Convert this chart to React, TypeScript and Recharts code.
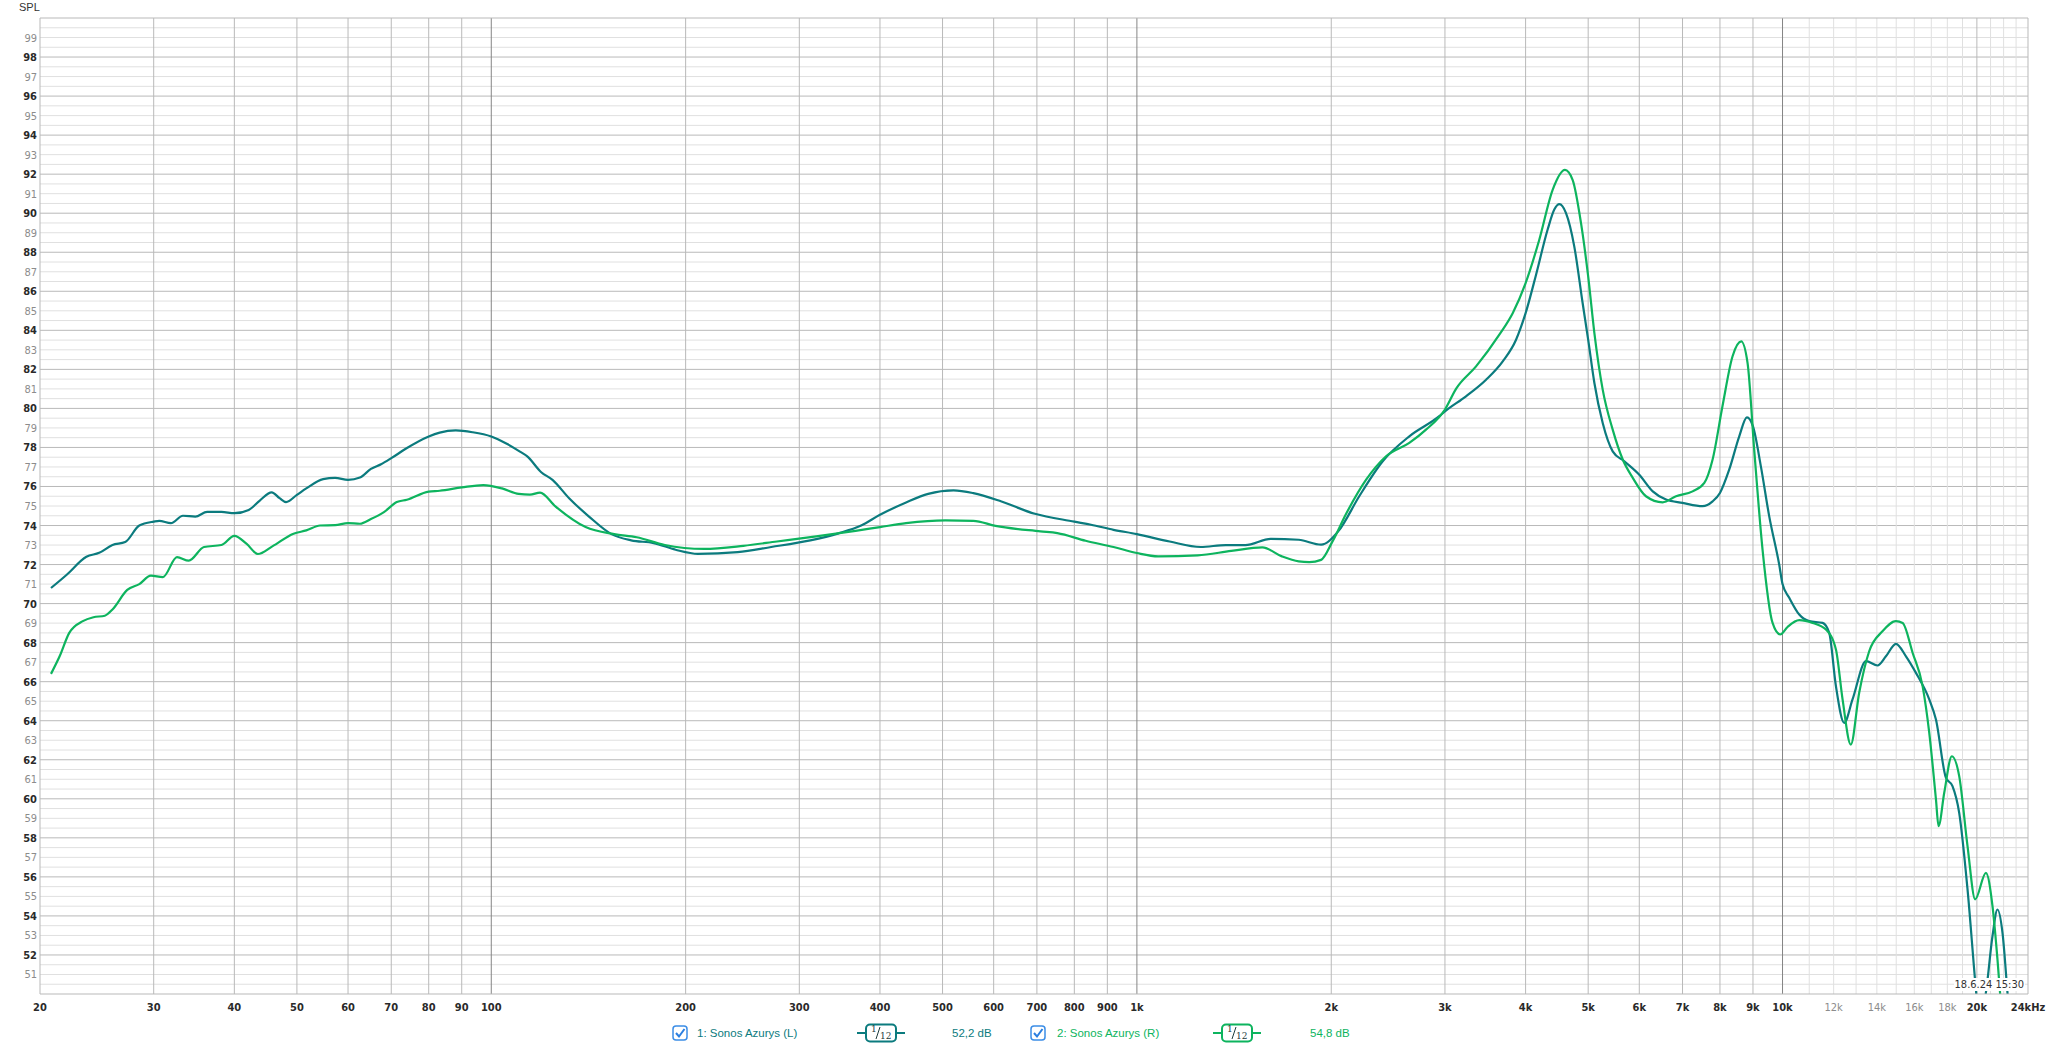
import React from "react"
import { LineChart, Line, XAxis, YAxis, ReferenceLine } from "recharts"

const freqL = [
  20.8, 22, 23.6, 24.7, 25.9, 27.1, 28.5, 30, 30.6, 31.9, 33.3, 34.8, 36.3, 38.2, 40, 42.1, 43.8, 45.7, 47, 48.1,
  50, 51.7, 54.9, 57.3, 60, 62.6, 65.1, 67.5, 70, 73.7, 80, 83.2, 88.1, 93.5, 100, 105.5, 110.6, 113.7, 119.5,
  124.4, 132, 141.7, 153.5, 164.7, 178.4, 193, 209, 240.8, 271.4, 312, 345, 374, 400, 439, 475, 520, 558, 617,
  695, 800, 849, 920, 1000, 1124, 1255, 1373, 1472, 1612, 1781, 1929, 2050, 2210, 2403, 2642, 2940, 3000, 3234,
  3474, 3687, 3866, 4000, 4152, 4326, 4433, 4512, 4620, 4758, 4902, 5000, 5112, 5266, 5457, 5688, 6000, 6295,
  6600, 7000, 7520, 7793, 8000, 8268, 8570, 8808, 9000, 9257, 9537, 9882, 10000, 10242, 10614, 11000, 11536,
  11812, 12098, 12460, 12836, 13466, 14034, 14460, 14986, 15530, 16094, 16876, 17284, 17908, 18334, 18778,
  19344, 19930, 20166, 20654, 21146, 21524, 21912, 22306, 22700,
]
const splL = [
  70.8, 71.48, 72.4, 72.6, 73.0, 73.15, 74.0, 74.2, 74.24, 74.12, 74.5, 74.46, 74.7, 74.7, 74.63, 74.8, 75.28,
  75.7, 75.4, 75.2, 75.57, 75.9, 76.38, 76.44, 76.34, 76.46, 76.9, 77.14, 77.45, 77.93, 78.56, 78.76, 78.87,
  78.78, 78.56, 78.2, 77.8, 77.54, 76.73, 76.34, 75.4, 74.46, 73.56, 73.24, 73.1, 72.76, 72.55, 72.64, 72.9,
  73.24, 73.6, 74.0, 74.55, 75.18, 75.62, 75.8, 75.66, 75.23, 74.6, 74.2, 74.04, 73.78, 73.56, 73.18, 72.9,
  73.0, 73.0, 73.32, 73.27, 73.02, 73.7, 75.5, 77.29, 78.57, 79.6, 79.85, 80.62, 81.47, 82.41, 83.52, 84.88,
  86.85, 89.15, 90.2, 90.46, 90.0, 88.3, 85.4, 83.52, 81.3, 79.25, 77.8, 77.29, 76.6, 75.75, 75.33, 75.16,
  74.99, 75.24, 75.67, 76.86, 78.57, 79.54, 79.08, 77.03, 74.47, 72.0, 71.0, 70.3, 69.44, 69.1, 69.01, 68.5,
  65.77, 63.89, 65.09, 67.05, 66.83, 67.3, 67.94, 67.3, 66.45, 65.09, 64.06, 61.08, 60.65, 59.28, 55.36, 50.24,
  48.5, 50.07, 52.97, 54.33, 53.14, 50.07, 47,
]

const freqR = [
  20.8, 21.45, 22.2, 23.3, 24.2, 25.2, 25.9, 27.3, 28.5, 29.7, 31, 32.6, 34, 35.9, 38.2, 40, 41.8, 43.5, 45.8,
  49.4, 51.7, 54.3, 57.3, 60, 62.6, 65.1, 68.2, 71.4, 74, 80, 83.2, 90, 97.2, 103.9, 110.3, 114.8, 119, 125.7,
  140, 155, 168, 185.7, 213.6, 245.7, 277, 318.6, 366.6, 400, 439, 505, 558, 604, 709, 753, 833, 920, 1000,
  1079, 1242, 1400, 1564, 1677, 1781, 1849, 1929, 2010, 2109, 2265, 2432, 2642, 2804, 3000, 3121, 3352, 3642,
  3820, 4000, 4200, 4405, 4603, 4730, 4874, 5000, 5112, 5266, 5457, 5656, 5862, 6144, 6522, 6840, 7257, 7566,
  7793, 8072, 8368, 8630, 8828, 9039, 9312, 9651, 9917, 10180, 10614, 11132, 11674, 12098, 12388, 12758, 13144,
  13622, 14282, 14986, 15346, 15906, 16480, 16876, 17284, 17444, 17802, 18292, 18778, 19344, 19880, 20654,
  21146, 21524, 21788, 22100,
]
const splR = [
  66.4, 67.3, 68.5, 69.1, 69.3, 69.38, 69.7, 70.7, 71.0, 71.43, 71.36, 72.38, 72.2, 72.9, 73.0, 73.47, 73.06,
  72.54, 72.93, 73.58, 73.75, 74.0, 74.02, 74.12, 74.09, 74.33, 74.69, 75.2, 75.32, 75.74, 75.78, 75.95, 76.07,
  75.9, 75.62, 75.58, 75.69, 74.98, 73.92, 73.56, 73.4, 73.0, 72.8, 72.96, 73.18, 73.44, 73.73, 73.92, 74.12,
  74.26, 74.24, 73.98, 73.7, 73.61, 73.22, 72.9, 72.59, 72.42, 72.47, 72.7, 72.88, 72.42, 72.16, 72.12, 72.24,
  73.2, 74.6, 76.35, 77.55, 78.23, 78.91, 79.94, 81.0, 82.15, 83.78, 84.88, 86.42, 88.64, 91.2, 92.22, 91.71,
  89.49, 86.76, 83.86, 80.96, 78.91, 77.38, 76.44, 75.5, 75.19, 75.5, 75.75, 76.18, 77.38, 80.11, 82.67, 83.43,
  82.32, 77.89, 72.77, 69.01, 68.42, 68.8, 69.15, 69.01, 68.67, 67.65, 65.09, 62.78, 65.43, 67.56, 68.58, 69.1,
  69.01, 67.47, 65.77, 63.38, 59.97, 58.6, 60.31, 62.18, 61.16, 57.58, 54.85, 56.21, 54.5, 51.77, 49.5, 47,
]

const xTicks = [
  20, 30, 40, 50, 60, 70, 80, 90, 100, 200, 300, 400, 500, 600, 700, 800, 900, 1000, 2000, 3000, 4000, 5000,
  6000, 7000, 8000, 9000, 10000, 12000, 14000, 16000, 18000, 20000, 24000,
]
const xTickLabels = [
  "20", "30", "40", "50", "60", "70", "80", "90", "100", "200", "300", "400", "500", "600", "700", "800", "900",
  "1k", "2k", "3k", "4k", "5k", "6k", "7k", "8k", "9k", "10k", "12k", "14k", "16k", "18k", "20k", "24kHz",
]
const yTicks = Array.from({ length: 49 }, (_, i) => 51 + i)

// grid line positions
const hGrid = Array.from({ length: 99 }, (_, i) => 50.5 + i * 0.5)
const vGridMid = [30, 40, 50, 60, 70, 80, 90, 200, 300, 400, 500, 600, 700, 800, 900, 2000, 3000, 4000, 5000, 6000, 7000, 8000, 9000, 20000]
const vGridDecade = [100, 1000, 10000]
const vGridLight = [11000, 12000, 13000, 14000, 15000, 16000, 17000, 18000, 19000, 21000, 22000, 23000]

const TEAL = "#0b7b7e"
const GREEN = "#0db45e"
const FONT = "'Liberation Sans Narrow', 'DejaVu Sans Condensed', 'Liberation Sans', sans-serif"
const UIFONT = "'Liberation Sans', Arial, sans-serif"

const dataL = freqL.map((f, i) => ({ f, v: splL[i] }))
const dataR = freqR.map((f, i) => ({ f, v: splR[i] }))

function YTick(props: any) {
  const { y, payload } = props
  const even = payload.value % 2 === 0
  return (
    <text x={37} y={y} dy={4} textAnchor="end" fontSize={11} fontFamily={FONT}
      fontWeight={even ? "bold" : "normal"} fill={even ? "#2a2a2a" : "#8c8c8c"}>
      {payload.value}
    </text>
  )
}

function XTick(props: any) {
  const { x, payload } = props
  const i = xTicks.indexOf(payload.value)
  const gray = payload.value >= 12000 && payload.value <= 18000
  return (
    <text x={x} y={1011} textAnchor="middle" fontSize={11} fontFamily={FONT}
      fontWeight={gray ? "normal" : "bold"} fill={gray ? "#8c8c8c" : "#2a2a2a"}>
      {xTickLabels[i]}
    </text>
  )
}

function LegendIcon({ x, color }: { x: number; color: string }) {
  return (
    <g>
      <line x1={x} x2={x + 48} y1={15} y2={15} stroke={color} strokeWidth={2} />
      <rect x={x + 9} y={6.5} width={30} height={17} rx={4} fill="#fff" stroke={color} strokeWidth={2} />
      <text x={x + 14} y={14} fontSize={9} fontFamily="'DejaVu Serif', serif" fill="#1d3c3c">1</text>
      <line x1={x + 19} x2={x + 23} y1={21} y2={9} stroke="#1d3c3c" strokeWidth={1} />
      <text x={x + 23} y={21} fontSize={9} fontFamily="'DejaVu Serif', serif" fill="#1d3c3c">12</text>
    </g>
  )
}

function CheckBox({ cx }: { cx: number }) {
  return (
    <g>
      <rect x={cx - 7} y={8} width={14} height={14} rx={3} fill="#fff" stroke="#3b8de6" strokeWidth={1.5} />
      <path d={`M${cx - 4},${15} L${cx - 1},${18.5} L${cx + 4.5},${11}`} fill="none" stroke="#2b7fe0" strokeWidth={2} />
    </g>
  )
}

export default function App() {
  return (
    <div style={{ position: "absolute", left: 0, top: 0, width: 2048, height: 1046, background: "#fff" }}>
      <div style={{ position: "absolute", left: 19, top: 1, fontSize: 11, fontFamily: UIFONT, color: "#333" }}>SPL</div>
      <LineChart width={2048} height={1046} margin={{ top: 18, right: 20, left: 0, bottom: 22 }}>
        {hGrid.map((v) => (
          <ReferenceLine key={"h" + v} y={v} stroke={v % 2 === 0 ? "#b9b9b9" : "#e0e0e0"} strokeWidth={1} />
        ))}
        {vGridLight.map((v) => (
          <ReferenceLine key={"vl" + v} x={v} stroke="#e0e0e0" strokeWidth={1} />
        ))}
        {vGridMid.map((v) => (
          <ReferenceLine key={"vm" + v} x={v} stroke="#b9b9b9" strokeWidth={1} />
        ))}
        {vGridDecade.map((v) => (
          <ReferenceLine key={"vd" + v} x={v} stroke="#858585" strokeWidth={1} />
        ))}
        <ReferenceLine y={100} stroke="#b9b9b9" />
        <ReferenceLine x={24000} stroke="#b9b9b9" />
        <XAxis dataKey="f" type="number" scale="log" domain={[20, 24000]} allowDataOverflow ticks={xTicks}
          tick={<XTick />} tickLine={false} axisLine={{ stroke: "#b9b9b9" }} height={30} interval={0} />
        <YAxis type="number" domain={[50, 100]} allowDataOverflow ticks={yTicks} tick={<YTick />}
          tickLine={false} axisLine={{ stroke: "#b9b9b9" }} width={40} interval={0} />
        <Line data={dataL} dataKey="v" type="monotone" stroke={TEAL} strokeWidth={2.2} dot={false} isAnimationActive={false} />
        <Line data={dataR} dataKey="v" type="monotone" stroke={GREEN} strokeWidth={2.2} dot={false} isAnimationActive={false} />
      </LineChart>
      <div style={{ position: "absolute", right: 2048 - 2025, top: 978, fontSize: 11, fontFamily: FONT, color: "#333", background: "#fff", lineHeight: "13px", padding: "0 1px" }}>
        18.6.24 15:30
      </div>
      <svg style={{ position: "absolute", left: 0, top: 1018 }} width={2048} height={28}>
        <CheckBox cx={680} />
        <text x={697} y={19} fontSize={11.5} fontFamily={UIFONT} fill={TEAL}>1: Sonos Azurys (L)</text>
        <LegendIcon x={857} color={TEAL} />
        <text x={952} y={19} fontSize={11.5} fontFamily={UIFONT} fill={TEAL}>52,2 dB</text>
        <CheckBox cx={1038} />
        <text x={1057} y={19} fontSize={11.5} fontFamily={UIFONT} fill={GREEN}>2: Sonos Azurys (R)</text>
        <LegendIcon x={1213} color={GREEN} />
        <text x={1310} y={19} fontSize={11.5} fontFamily={UIFONT} fill={GREEN}>54,8 dB</text>
      </svg>
    </div>
  )
}
